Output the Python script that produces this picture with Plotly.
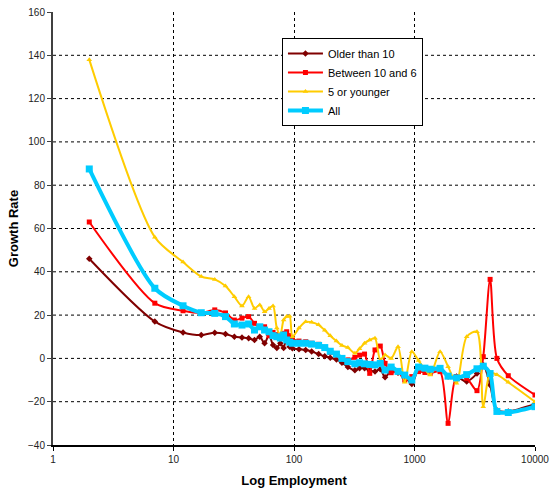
import plotly.graph_objects as go

# Employment size (shared x positions for every series)
employment = [2, 7, 12, 17, 22, 27, 32, 37, 42, 47, 52, 57, 62, 67, 72, 77, 82, 87, 92, 97,
              110, 125, 140, 160, 180, 200, 225, 250, 280, 320, 350, 385, 425, 470, 520, 570,
              640, 730, 830, 950, 1080, 1220, 1350, 1630, 1900, 2230, 2710, 3300, 3720, 4240,
              4830, 6000, 10000]

older_than_10 = [46, 17, 12, 10.8, 11.9, 11.3, 10, 9.7, 9.3, 8.5, 10, 7, 10.8, 6.2, 4.8, 7, 4.8, 10.8, 5.4, 4.7,
                 4.2, 3.9, 3.2, 2, 1, 0.3, -0.5, -2, -4, -5.5, -4.5, -4.5, -5.7, -6, -5, -8.7,
                 -5.7, -6.6, -8.1, -11.8, -5, -5.4, -5.4, -5, -8.4, -8.4, -10.7, -7, -3, -12.3,
                 -24, -24.5, -21]

between_10_and_6 = [63, 25.5, 22, 21, 22.4, 21, 17.7, 18.6, 19.3, 16.2, 14.6, 14.6, 10.5, 12, 11, 10, 11.6, 12.3, 10.5, 9,
                    8, 7.7, 7, 6.5, 5, 2.8, 1.5, 0.3, -0.7, 0.5, 1.5, 2, -6.9, 3.9, 5.7, -2.3,
                    -6.6, -6.1, -10, -8.4, -6.1, -6.5, -6.9, -6.1, -30, -8.4, -9.2, -14.9, 0.8, 36.5,
                    0, -8, -16.9]

five_or_younger = [138, 56, 44.5, 37.8, 36.5, 33.4, 28.5, 24.2, 28.5, 23.1, 24.7, 21.6, 23.1, 24.2, 14, 11, 17.7, 19.3, 19.5, 10,
                   14, 16.9, 16.7, 15.5, 13, 10.5, 8, 6, 5, 2.4, 4.5, 7, 8.5, 9.3, -0.7, 1.6,
                   0, 5.4, -11, 3.1, -1, -5, -7.7, 3.1, -3.8, -11.5, 10, 12.3, -22.3, -6.9,
                   -7.5, -11, -20]

all_firms = [87.5, 32.4, 24.3, 21.1, 20.8, 19.3, 15.9, 15.4, 15.9, 13.1, 14.6, 13.1, 12.3, 10.5, 10, 9.4, 10.8, 8.5, 7.5, 7,
             7, 7, 6.6, 6, 5, 3.3, 2, 0, -1.5, -2.5, -2, -2.5, -2.8, -3, -2.3, -5.4,
             -4, -6, -7.7, -10, -4, -4.5, -5, -4.6, -8.2, -9, -7.5, -4.8, -3.6, -7,
             -24.5, -25, -22.3]

series = [
    ("Older than 10", older_than_10, "#800000", 2, "diamond", 5),
    ("Between 10 and 6", between_10_and_6, "#FF0000", 2, "square", 5),
    ("5 or younger", five_or_younger, "#FFCC00", 2, "triangle-up", 5),
    ("All", all_firms, "#00CCFF", 4, "square", 7),
]

y_ticks = [-40, -20, 0, 20, 40, 60, 80, 100, 120, 140, 160]
x_ticks = [1, 10, 100, 1000, 10000]
x_tick_text = ["1", "10", "100", "1000", "10000"]

fig = go.Figure()
for name, values, color, width, symbol, msize in series:
    fig.add_trace(go.Scatter(
        x=employment, y=values, name=name, mode="lines+markers",
        line=dict(color=color, width=width, shape="spline", smoothing=0.8),
        marker=dict(symbol=symbol, size=msize, color=color),
    ))

# Dashed horizontal grid lines (none along the top edge)
for v in y_ticks[1:-1]:
    fig.add_shape(type="line", xref="paper", yref="y", x0=0, x1=1, y0=v, y1=v,
                  line=dict(color="#000000", width=1, dash="3px,3px"), layer="below")

font_family = "Liberation Sans, Arial, sans-serif"

fig.update_layout(
    width=550, height=488,
    margin=dict(l=53, r=15, t=12, b=43),
    paper_bgcolor="white", plot_bgcolor="white",
    font=dict(family=font_family, size=10, color="#222222"),
    showlegend=True,
    legend=dict(
        x=0.475, y=0.94, xanchor="left", yanchor="top",
        bgcolor="white", bordercolor="#000000", borderwidth=1,
        font=dict(family=font_family, size=11, color="#000000"),
        tracegroupgap=0, itemwidth=35,
    ),
)

fig.update_xaxes(
    type="log", range=[0, 4], automargin=False,
    tickvals=x_ticks, ticktext=x_tick_text,
    showgrid=True, gridcolor="#000000", gridwidth=1, griddash="3px,3px",
    showline=True, linecolor="#000000", linewidth=1.5,
    ticks="outside", ticklen=4, tickcolor="#000000",
    zeroline=False,
    title=dict(text="<b>Log Employment</b>", font=dict(family=font_family, size=13, color="#000000"), standoff=12),
)
fig.update_yaxes(
    range=[-40, 160], tickvals=y_ticks, automargin=False,
    showgrid=False,
    showline=True, linecolor="#404040", linewidth=2,
    ticks="outside", ticklen=4, tickcolor="#404040",
    zeroline=False,
    title=dict(text="<b>Growth Rate</b>", font=dict(family=font_family, size=13, color="#000000"), standoff=6),
)

fig.write_html("out.html")
